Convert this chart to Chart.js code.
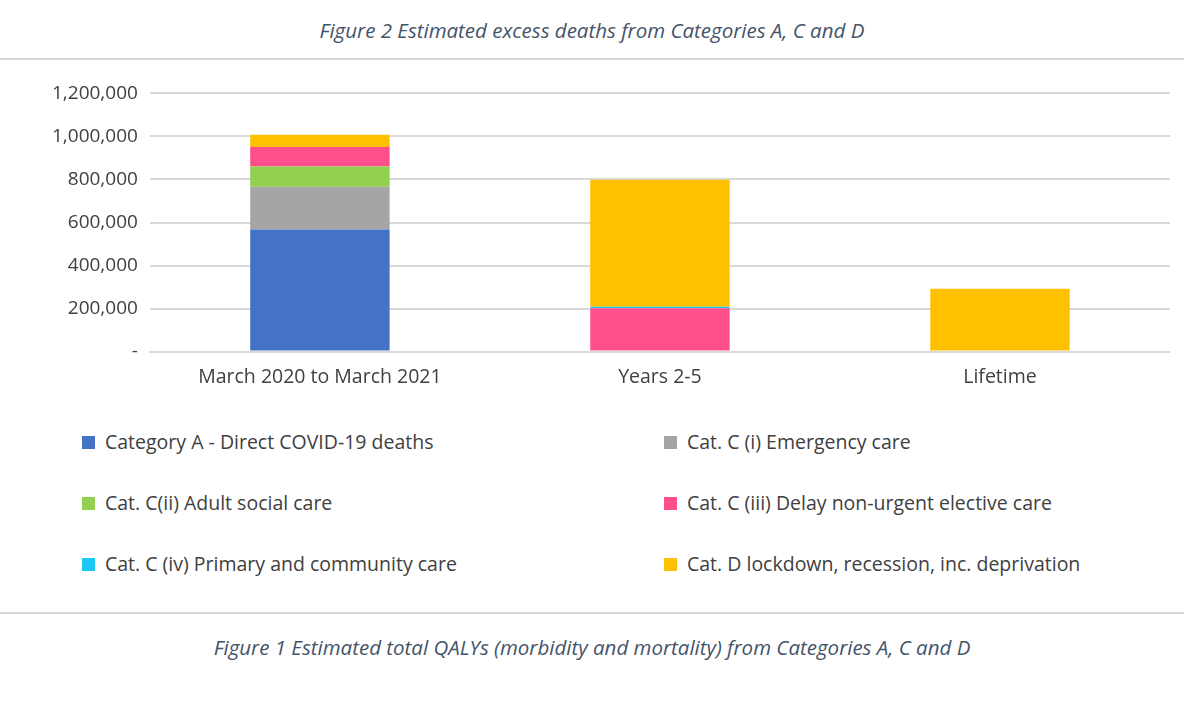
<!DOCTYPE html>
<html><head><meta charset="utf-8">
<script src="https://cdn.jsdelivr.net/npm/chart.js@4"></script>
<style>
body{margin:0;width:1184px;height:703px;background:#fff;font-family:"Open Sans",sans-serif;position:relative;overflow:hidden}
.t{position:absolute;left:0;width:1184px;text-align:center;font-style:italic;color:#44546a;font-size:20.5px}
.hr{position:absolute;left:0;width:1184px;border-top:2px solid #d9d9d9}
#wrap{position:absolute;left:40px;top:70px;width:1130px;height:325px}
#leg{position:absolute;left:82px;top:428px;width:1060px}
.li{position:absolute;font-size:19.5px;color:#404040;white-space:nowrap}
.li span{display:inline-block;width:13px;height:13px;margin-right:10px}
</style></head><body>
<div class="t" style="top:16px">Figure 2 Estimated excess deaths from Categories A, C and D</div>
<div class="hr" style="top:58px"></div>
<div id="wrap"><canvas id="c"></canvas></div>
<div id="leg"></div>
<div class="hr" style="top:612px"></div>
<div class="t" style="top:633px">Figure 1 Estimated total QALYs (morbidity and mortality) from Categories A, C and D</div>
<script>
const categorias = ['March 2020 to March 2021', 'Years 2-5', 'Lifetime'];
const nombres = ['Category A - Direct COVID-19 deaths', 'Cat. C (i) Emergency care', 'Cat. C(ii) Adult social care',
  'Cat. C (iii) Delay non-urgent elective care', 'Cat. C (iv) Primary and community care', 'Cat. D lockdown, recession, inc. deprivation'];
const colores = ['#4472c4', '#a5a5a5', '#92d050', '#ff4f8b', '#1ec8f5', '#ffc000'];
const catA = [567000, 0, 0];
const catCi = [199000, 0, 0];
const catCii = [94000, 0, 0];
const catCiii = [91000, 201000, 0];
const catCiv = [0, 8000, 0];
const catD = [57000, 590000, 292000];
const series = [catA, catCi, catCii, catCiii, catCiv, catD];

new Chart(document.getElementById('c'), {
  type: 'bar',
  data: {
    labels: categorias,
    datasets: series.map((d, i) => ({ label: nombres[i], data: d, backgroundColor: colores[i], barPercentage: 0.41, categoryPercentage: 1 }))
  },
  options: {
    responsive: true, maintainAspectRatio: false, animation: false,
    layout: { padding: { top: 6 } },
    plugins: { legend: { display: false }, tooltip: { enabled: false } },
    scales: {
      x: { stacked: true, grid: { display: false }, border: { color: '#d9d9d9', width: 2 },
        ticks: { color: '#404040', font: { family: 'Open Sans', size: 19.5 }, padding: 6 } },
      y: { stacked: true, min: 0, max: 1200000, border: { display: false },
        grid: { color: '#d9d9d9', lineWidth: 2, drawTicks: false },
        ticks: { stepSize: 200000, padding: 12, color: '#404040', font: { family: 'Open Sans', size: 19 },
          callback: v => v === 0 ? '-' : v.toLocaleString('en-US') } }
    }
  }
});

const leg = document.getElementById('leg');
nombres.forEach((n, i) => {
  const d = document.createElement('div');
  d.className = 'li';
  d.style.left = (i % 2 ? 582 : 0) + 'px';
  d.style.top = (Math.floor(i / 2) * 61) + 'px';
  d.innerHTML = `<span style="background:${colores[i]}"></span>${n}`;
  leg.appendChild(d);
});
</script>
</body></html>
